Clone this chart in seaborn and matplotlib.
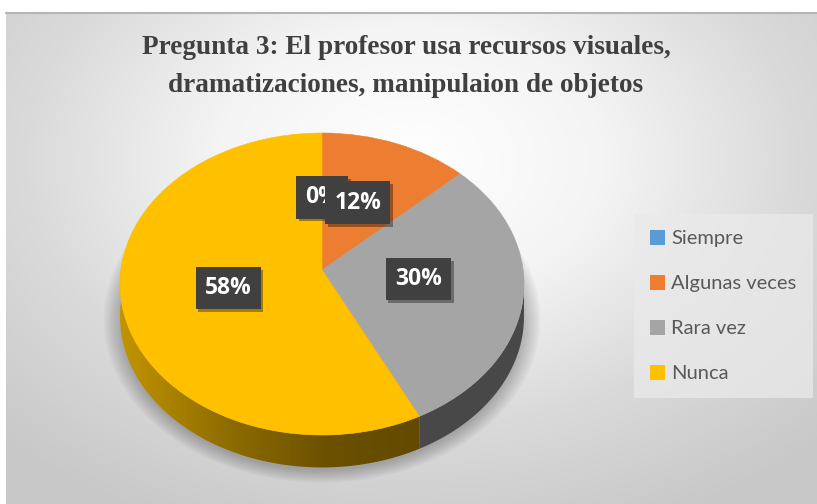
# Pie chart of survey question 3, with a fake 3D look like the office chart
import numpy as np
import matplotlib
matplotlib.use("Agg")
import matplotlib.pyplot as plt
import matplotlib.patheffects as pe
from matplotlib.colors import LinearSegmentedColormap
from matplotlib.patches import Patch, PathPatch, Ellipse
from matplotlib.path import Path
import seaborn as sns

# ==========================================
# DATA
# ==========================================
categories = ["Siempre", "Algunas veces", "Rara vez", "Nunca"]
shares = [0, 12, 30, 58]
hex_colors = ["#5B9BD5", "#ED7D31", "#A5A5A5", "#FFC000"]
title_lines = ["Pregunta 3: El profesor usa recursos visuales,",
               "dramatizaciones, manipulaion de objetos"]

W, H = 817, 504
DEPTH = 0.215      # height of the pie side, in radius units
APEX_UP = 0.093    # apex sits above the ellipse centre (perspective)

sns.set_theme(style="white")
plt.rcParams["font.family"] = ["Lato", "DejaVu Sans"]
colors = sns.color_palette(hex_colors)

fig = plt.figure(figsize=(W / 100, H / 100), dpi=100, facecolor="white")


def px_axes(left, top, right, bottom):
    return fig.add_axes([left / W, 1 - bottom / H, (right - left) / W, (bottom - top) / H])


# ==========================================
# BACKGROUND PANEL
# ==========================================
bg = px_axes(6, 12, W, H)
yy, xx = np.mgrid[0:1:300j, 0:1:500j]
dist = np.sqrt(((xx - 0.5) / 0.68) ** 2 + ((yy - 0.3) / 0.78) ** 2)
bg_cmap = LinearSegmentedColormap.from_list("panel", ["#FFFFFF", "#F4F4F4", "#DADADA", "#C8C8C8"])
bg.imshow(dist, cmap=bg_cmap, vmin=0, vmax=1.05, aspect="auto")
bg.axis("off")
fig.add_artist(plt.Line2D([6 / W, 1], [1 - 12.5 / H] * 2, color="#B5B5B5", lw=1.5))

fig.text(406 / W, 1 - 48 / H, title_lines[0], ha="center", va="center", fontsize=19.6,
         fontweight="bold", family="Liberation Serif", color="#404040")
fig.text(406 / W, 1 - 85 / H, title_lines[1], ha="center", va="center", fontsize=19.6,
         fontweight="bold", family="Liberation Serif", color="#404040")

# ==========================================
# PIE
# ==========================================
# 1 data unit = 202 px across, 151 px down, centre of the ellipse at (322, 284)
ax = px_axes(322 - 1.3 * 202, 284 - 1.2 * 151, 322 + 1.3 * 202, 284 + 1.6 * 151)
ax.patch.set_alpha(0)

# soft shadow under the pie
for grow in np.linspace(1.08, 1.0, 8):
    ax.add_patch(Ellipse((0, -DEPTH - 0.02), 2 * grow, 2 * grow, color="black", alpha=0.03, lw=0))

wedges, label_texts, pct_texts = ax.pie(
    shares, colors=colors, startangle=90, counterclock=False, radius=1,
    autopct="%.0f%%", pctdistance=0.48, frame=False,
    wedgeprops={"linewidth": 0}, textprops={"zorder": 10},
)
ax.set_aspect("auto")

# side of the pie, from the slice limits
limits = np.cumsum(shares) / 100 * 2 * np.pi


def side_path(start, stop):
    t = np.linspace(start, stop, 80)
    top = np.column_stack([np.sin(t), np.cos(t)])
    low = top[::-1] - [0, DEPTH]
    return Path(np.vstack([top, low, top[:1]]), closed=True)


ax.add_patch(PathPatch(side_path(np.pi / 2, limits[2]), color="#484848", lw=0, zorder=1))
side_cmap = LinearSegmentedColormap.from_list("side", ["#C29400", "#8F6D00", "#6B5000", "#614900"])
side_im = ax.imshow(np.linspace(0, 1, 200)[None, :], cmap=side_cmap, aspect="auto",
                    extent=(-1, 0.55, -1.6, 1.2), zorder=1)
side_im.set_clip_path(PathPatch(side_path(limits[2], 1.56 * np.pi), transform=ax.transData))
ax.set_xlim(-1.3, 1.3)
ax.set_ylim(-1.6, 1.2)

# move the apex of every slice up to get the perspective of the original
for w, color in zip(wedges, colors):
    w.set_visible(False)
    path = w.get_path()
    verts = w.get_patch_transform().transform(path.vertices)
    verts[np.hypot(verts[:, 0], verts[:, 1]) < 1e-6, 1] += APEX_UP
    ax.add_patch(PathPatch(Path(verts, path.codes), facecolor=color, edgecolor=color, lw=0.4, zorder=2))

# dark data labels with a small drop shadow
for t in pct_texts:
    x, y = t.get_position()
    t.set_position((x, y + APEX_UP))
    t.set(color="white", fontsize=16.5, fontweight="bold", family=["Open Sans", "DejaVu Sans"])
    t.set_bbox({"boxstyle": "square,pad=0.4", "facecolor": "#404040", "edgecolor": "none"})
    t.get_bbox_patch().set_path_effects([
        pe.SimplePatchShadow(offset=(2, -2), alpha=0.35, shadow_rgbFace="black"), pe.Normal()])

# ==========================================
# LEGEND
# ==========================================
handles = [Patch(facecolor=c, edgecolor="none") for c in colors]
leg = fig.legend(handles, categories, loc="center", bbox_to_anchor=(723.5 / W, 1 - 306 / H),
                 fontsize=14.5, labelcolor="#595959", frameon=True, facecolor="#EAEAEA",
                 edgecolor="none", framealpha=0.75, fancybox=False, handlelength=0.75, handleheight=0.75,
                 handletextpad=0.3, labelspacing=1.37, borderpad=0.8, borderaxespad=0)
leg.set_zorder(5)

fig.savefig("out.png", dpi=100)
